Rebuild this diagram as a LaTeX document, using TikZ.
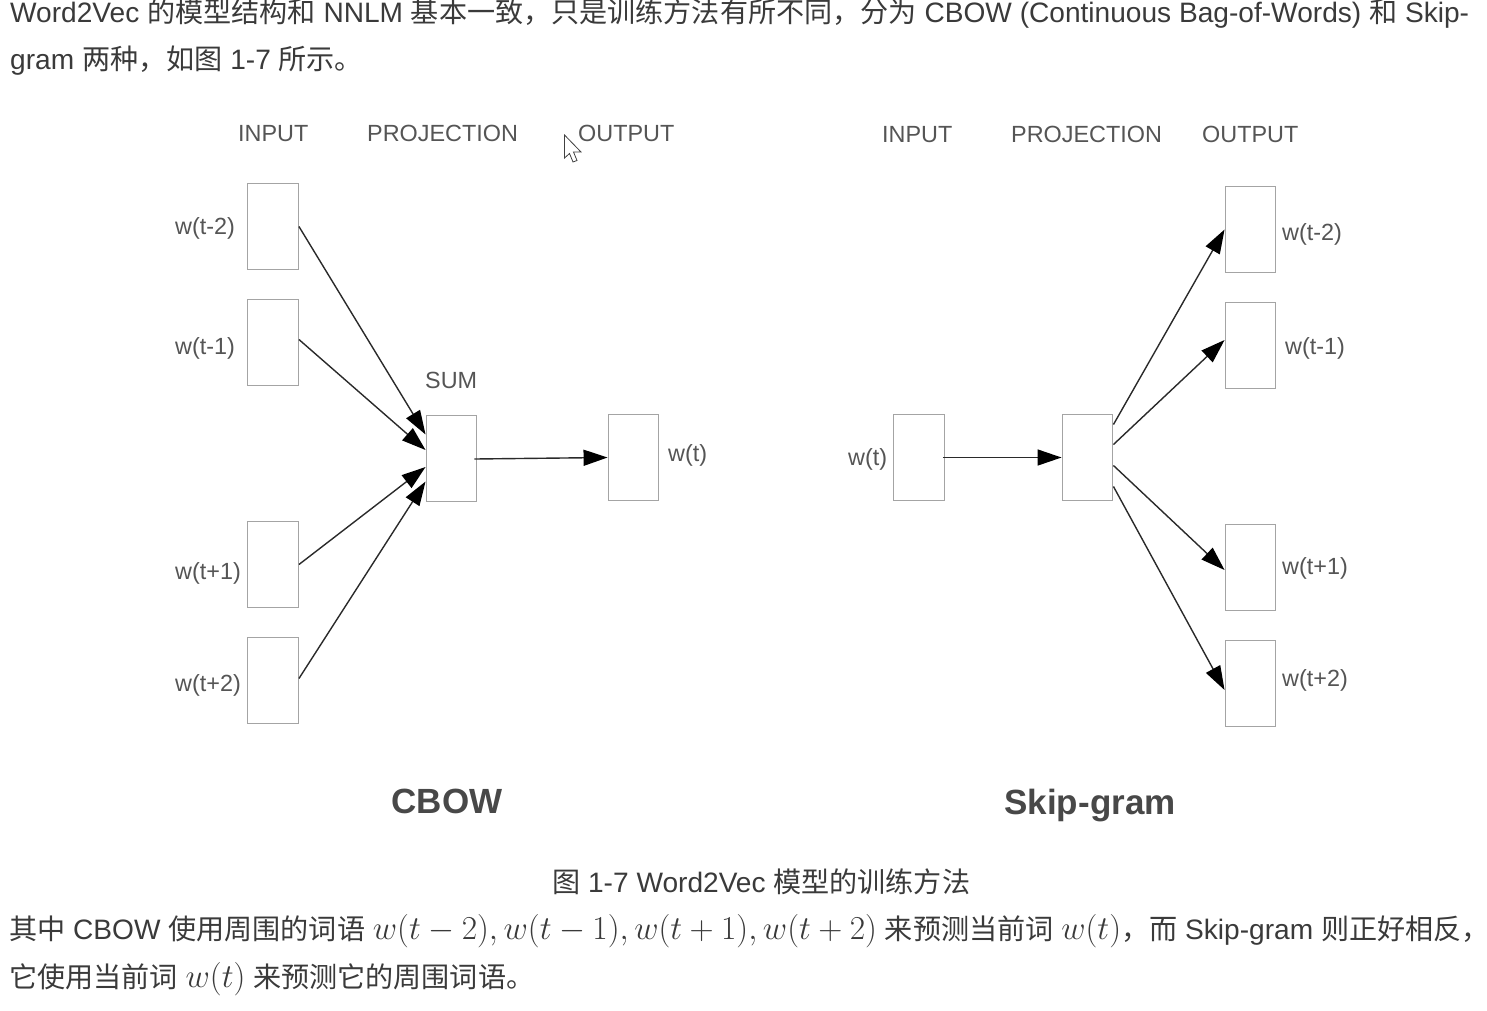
\documentclass[tikz,border=0pt]{standalone}
\usepackage{fontspec}
\setmainfont{Liberation Sans}
\newfontfamily\cjk{Noto Sans CJK SC}
\usetikzlibrary{arrows.meta}
\definecolor{bodygray}{HTML}{3A3A3A}
\definecolor{labelgray}{HTML}{555555}
\definecolor{boxgray}{HTML}{A4A4A4}
\definecolor{arrowgray}{HTML}{2A2A2A}
\newcommand{\bigmath}[1]{\scalebox{1.344}{$#1$}}
\tikzset{
  boxnode/.style={draw=boxgray,line width=1.4pt,fill=white,minimum width=50.5pt,minimum height=86.5pt,inner sep=0pt},
  labelnode/.style={text=labelgray,font=\fontsize{23.4}{28}\selectfont,inner sep=0pt,anchor=base west},
  titlenode/.style={text=labelgray!85!black,font=\bfseries\fontsize{35}{42}\selectfont,inner sep=0pt,anchor=base},
  bodynode/.style={text=bodygray,font=\fontsize{28.1}{33}\selectfont,inner sep=0pt,anchor=base west},
  arrowline/.style={draw=arrowgray,line width=1.4pt,-{Triangle[length=24pt,width=16pt,black]},shorten >=0pt},
}
\begin{document}
\begin{tikzpicture}[x=1pt,y=-1pt]
\useasboundingbox (0,0) rectangle (1487,1010);
% text above the figure
\node[bodynode] (lineA) at (10,22.5) {Word2Vec {\cjk 的模型结构和} NNLM {\cjk 基本一致，只是训练方法有所不同，分为} CBOW (Continuous Bag-of-Words) {\cjk 和} Skip-};
\node[bodynode] (lineB) at (10,69.5) {gram {\cjk 两种，如图} 1-7 {\cjk 所示。}};
% CBOW
\node[labelnode] (cInputTitle) at (238,141.5) {INPUT};
\node[labelnode] (cProjTitle) at (367,141.5) {PROJECTION};
\node[labelnode] (cOutputTitle) at (578,141.5) {OUTPUT};
\node[boxnode] (cIn1) at (273,226.5) {};
\node[boxnode] (cIn2) at (273,342.5) {};
\node[boxnode] (cIn3) at (273,564.5) {};
\node[boxnode] (cIn4) at (273,680.5) {};
\node[boxnode] (cSum) at (451.5,458.5) {};
\node[boxnode] (cOut) at (633.5,457.5) {};
\node[labelnode] (cLabel1) at (175,234) {w(t-2)};
\node[labelnode] (cLabel2) at (175,354) {w(t-1)};
\node[labelnode] (cLabel3) at (175,579) {w(t+1)};
\node[labelnode] (cLabel4) at (175,691) {w(t+2)};
\node[labelnode] (cSumLabel) at (425,388) {SUM};
\node[labelnode] (cOutLabel) at (668,461) {w(t)};
\draw[arrowline] (cIn1.east) -- ([yshift=24pt]cSum.west);
\draw[arrowline] ([yshift=3pt]cIn2.east) -- ([yshift=8.5pt]cSum.west);
\draw[arrowline] (cIn3.east) -- ([yshift=-8.5pt]cSum.west);
\draw[arrowline] ([yshift=2pt]cIn4.east) -- ([yshift=-23pt]cSum.west);
\draw[arrowline] ([xshift=-3pt,yshift=-0.5pt]cSum.east) -- (cOut.west);
\node[titlenode] (cTitle) at (447,813) {CBOW};
% mouse pointer
\draw[fill=white,draw=black!75,line width=0.8pt,line join=miter] (564.5,135) -- (564.5,158) -- (569.5,153.5) -- (573,162) -- (577,160.5) -- (573.5,152) -- (581,152) -- cycle;
% Skip-gram
\node[labelnode] (sInputTitle) at (882,142.5) {INPUT};
\node[labelnode] (sProjTitle) at (1011,142.5) {PROJECTION};
\node[labelnode] (sOutputTitle) at (1202,142.5) {OUTPUT};
\node[boxnode] (sIn) at (919,457.5) {};
\node[boxnode] (sProj) at (1087.5,457.5) {};
\node[boxnode] (sOut1) at (1250.5,229.5) {};
\node[boxnode] (sOut2) at (1250.5,345.5) {};
\node[boxnode] (sOut3) at (1250.5,567.5) {};
\node[boxnode] (sOut4) at (1250.5,683.5) {};
\node[labelnode] (sInLabel) at (848,465) {w(t)};
\node[labelnode] (sLabel1) at (1282,240) {w(t-2)};
\node[labelnode] (sLabel2) at (1285,354) {w(t-1)};
\node[labelnode] (sLabel3) at (1282,574) {w(t+1)};
\node[labelnode] (sLabel4) at (1282,686) {w(t+2)};
\draw[arrowline] ([xshift=-2pt]sIn.east) -- (sProj.west);
\draw[arrowline] ([yshift=33pt]sProj.east) -- (sOut1.west);
\draw[arrowline] ([yshift=13pt]sProj.east) -- ([yshift=5.5pt]sOut2.west);
\draw[arrowline] ([yshift=-8pt]sProj.east) -- ([yshift=-2.5pt]sOut3.west);
\draw[arrowline] ([yshift=-29pt]sProj.east) -- ([yshift=-6.5pt]sOut4.west);
\node[titlenode] (sTitle) at (1090,814) {Skip-gram};
% text below the figure
\node[bodynode] (caption) at (552,892) {{\cjk 图} 1-7 Word2Vec {\cjk 模型的训练方法}};
\node[bodynode] (lineC) at (9,939) {{\cjk 其中} CBOW {\cjk 使用周围的词语} \bigmath{w(t-2),w(t-1),w(t+1),w(t+2)} {\cjk 来预测当前词} \bigmath{w(t)}{\cjk ，而} Skip-gram {\cjk 则正好相反，}\kern-4pt};
\node[bodynode] (lineD) at (9,987) {{\cjk 它使用当前词} \bigmath{w(t)} {\cjk 来预测它的周围词语。}};
\end{tikzpicture}
\end{document}
